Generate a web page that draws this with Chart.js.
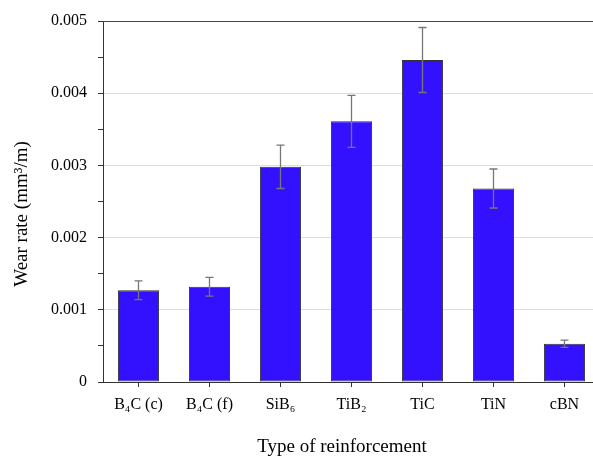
<!DOCTYPE html>
<html>
<head>
<meta charset="utf-8">
<script src="https://cdn.jsdelivr.net/npm/chart.js@4.4.0/dist/chart.umd.min.js"></script>
<style>
    html, body { margin: 0; padding: 0; background: #fff; }
    #wrap { width: 593px; height: 459px; overflow: hidden; }
</style>
</head>
<body>
<div id="wrap"><canvas id="wearChart" width="600" height="459"></canvas></div>
<script>
const categories = ['B\u2084C (c)', 'B\u2084C (f)', 'SiB\u2086', 'TiB\u2082', 'TiC', 'TiN', 'cBN'];
const wearRate = [0.00127, 0.00132, 0.00298, 0.00361, 0.00446, 0.00268, 0.00053];
const wearError = [0.00013, 0.00013, 0.00030, 0.00036, 0.00045, 0.00027, 0.00005];
const yTicks = [0, 0.001, 0.002, 0.003, 0.004, 0.005];

const serif = "'Liberation Serif', 'DejaVu Serif', serif";

// error bars drawn on top of the bars
const errorBars = {
    id: 'errorBars',
    afterDatasetsDraw(chart) {
        const ctx = chart.ctx;
        const x = chart.scales.x;
        const y = chart.scales.y;
        ctx.save();
        ctx.strokeStyle = '#777';
        ctx.lineWidth = 1.3;
        wearRate.forEach((v, i) => {
            const px = x.getPixelForValue(i);
            const top = y.getPixelForValue(v + wearError[i]);
            const bot = y.getPixelForValue(v - wearError[i]);
            ctx.beginPath();
            ctx.moveTo(px, top); ctx.lineTo(px, bot);
            ctx.moveTo(px - 4, top); ctx.lineTo(px + 4, top);
            ctx.moveTo(px - 4, bot); ctx.lineTo(px + 4, bot);
            ctx.stroke();
        });
        ctx.restore();
    }
};

// frame line on top + axis titles
const extras = {
    id: 'extras',
    afterDraw(chart) {
        const ctx = chart.ctx;
        const a = chart.chartArea;
        ctx.save();
        ctx.strokeStyle = '#444';
        ctx.lineWidth = 1;
        ctx.beginPath();
        ctx.moveTo(a.left, a.top + 0.5);
        ctx.lineTo(a.right, a.top + 0.5);
        ctx.stroke();

        ctx.fillStyle = '#000';
        ctx.font = '19px ' + serif;
        ctx.textAlign = 'center';
        ctx.textBaseline = 'middle';
        ctx.fillText('Type of reinforcement', 342, 447);

        ctx.translate(22, 214);
        ctx.rotate(-Math.PI / 2);
        ctx.fillText('Wear rate (mm\u00b3/m)', 0, 0);
        ctx.restore();
    }
};

new Chart(document.getElementById('wearChart'), {
    type: 'bar',
    data: {
        labels: categories,
        datasets: [{
            data: wearRate,
            backgroundColor: '#3311ff',
            borderColor: '#333',
            borderWidth: 1,
            borderSkipped: false,
            barPercentage: 0.58,
            categoryPercentage: 1
        }]
    },
    options: {
        responsive: false,
        animation: false,
        devicePixelRatio: 1,
        layout: { padding: { top: 21, right: 0, bottom: 0, left: 0 } },
        plugins: { legend: { display: false }, tooltip: { enabled: false } },
        scales: {
            x: {
                afterFit(scale) { scale.height = 77; },
                grid: {
                    offset: false,
                    drawOnChartArea: false,
                    tickLength: 5,
                    tickColor: '#333'
                },
                border: { color: '#333', width: 1 },
                ticks: {
                    color: '#000',
                    padding: 8,
                    maxRotation: 0,
                    font: { family: serif, size: 16 }
                }
            },
            y: {
                min: 0,
                max: 0.005,
                afterFit(scale) { scale.width = 103; },
                afterBuildTicks(scale) {
                    const t = [];
                    for (let i = 0; i <= 10; i++) t.push({ value: i * 0.0005 });
                    scale.ticks = t;
                },
                grid: {
                    color(c) {
                        const v = c.tick ? Math.round(c.tick.value * 10000) : 1;
                        if (v % 10 !== 0 || v === 0 || v === 50) return 'rgba(0,0,0,0)';
                        return '#dddddd';
                    },
                    tickColor: '#333',
                    tickLength: 5
                },
                border: { color: '#333', width: 1 },
                ticks: {
                    color: '#000',
                    padding: 11,
                    font: { family: serif, size: 16 },
                    callback(v) {
                        const k = Math.round(v * 10000);
                        if (k % 10 !== 0) return '';
                        const match = yTicks.find(t => Math.round(t * 10000) === k);
                        return match === 0 ? '0' : String(match);
                    }
                }
            }
        }
    },
    plugins: [errorBars, extras]
});
</script>
</body>
</html>
